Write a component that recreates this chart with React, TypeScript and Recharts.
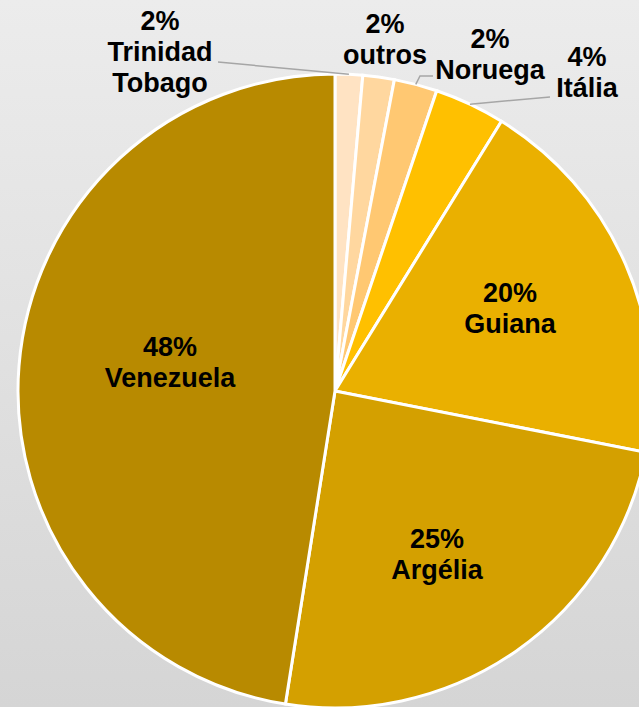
import React from 'react';
import { PieChart, Pie, Cell } from 'recharts';

const countries = ['Trinidad Tobago', 'outros', 'Noruega', 'Itália', 'Guiana', 'Argélia', 'Venezuela'];
const shares = [1.4, 1.6, 2.2, 3.6, 19.3, 24.4, 47.5];
const percentLabels = ['2%', '2%', '2%', '4%', '20%', '25%', '48%'];
const nameLines = [['Trinidad', 'Tobago'], ['outros'], ['Noruega'], ['Itália'], ['Guiana'], ['Argélia'], ['Venezuela']];
const colors = ['#FFE3C3', '#FFD79F', '#FFC872', '#FFC000', '#EAB000', '#D4A000', '#B88A00'];

const data = countries.map((c, i) => ({ name: c, value: shares[i] }));

// label placement relative to pie centre (text block centre), and leader line bends
const layout: Record<string, { dx: number; dy: number; leader?: number[][] }> = {
  'Trinidad Tobago': { dx: -175, dy: -339, leader: [[-117, -329]] },
  outros: { dx: 50, dy: -352 },
  Noruega: { dx: 155, dy: -337, leader: [[85, -315], [98, -315]] },
  'Itália': { dx: 252, dy: -319, leader: [[215, -294]] },
  Guiana: { dx: 175, dy: -83 },
  'Argélia': { dx: 102, dy: 163 },
  Venezuela: { dx: -165, dy: -29 },
};

const RAD = Math.PI / 180;
const LINE_H = 31;

const renderLabel = (props: any) => {
  const { cx, cy, midAngle, outerRadius, index } = props;
  const name = countries[index];
  const cfg = layout[name];
  const lines = [percentLabels[index], ...nameLines[index]];
  const tx = cx + cfg.dx;
  const ty0 = cy + cfg.dy - ((lines.length - 1) * LINE_H) / 2;
  let leader = null;
  if (cfg.leader) {
    const sx = cx + outerRadius * Math.cos(-midAngle * RAD);
    const sy = cy + outerRadius * Math.sin(-midAngle * RAD);
    const pts = [[sx, sy], ...cfg.leader.map((p) => [cx + p[0], cy + p[1]])];
    leader = (
      <polyline
        points={pts.map((p) => p.join(',')).join(' ')}
        fill="none"
        stroke="#A6A6A6"
        strokeWidth={1.5}
      />
    );
  }
  return (
    <g key={`lbl-${index}`}>
      {leader}
      {lines.map((t, i) => (
        <text
          key={i}
          x={tx}
          y={ty0 + i * LINE_H}
          textAnchor="middle"
          dominantBaseline="central"
          fill="#000"
          fontFamily="'Liberation Sans', Arial, sans-serif"
          fontWeight="bold"
          fontSize={27}
        >
          {t}
        </text>
      ))}
    </g>
  );
};

export default function App() {
  return (
    <div
      style={{
        position: 'absolute',
        left: 0,
        top: 0,
        width: 639,
        height: 707,
        overflow: 'hidden',
        background: 'linear-gradient(to bottom, #ececec, #d5d5d5)',
      }}
    >
      <PieChart width={639} height={707} margin={{ top: 0, right: 0, bottom: 0, left: 0 }}>
        <Pie
          data={data}
          dataKey="value"
          nameKey="name"
          cx={335}
          cy={391}
          outerRadius={317}
          startAngle={90}
          endAngle={-270}
          stroke="#ffffff"
          strokeWidth={3}
          label={renderLabel}
          labelLine={false}
          isAnimationActive={false}
        >
          {data.map((d, i) => (
            <Cell key={d.name} fill={colors[i]} />
          ))}
        </Pie>
      </PieChart>
    </div>
  );
}
